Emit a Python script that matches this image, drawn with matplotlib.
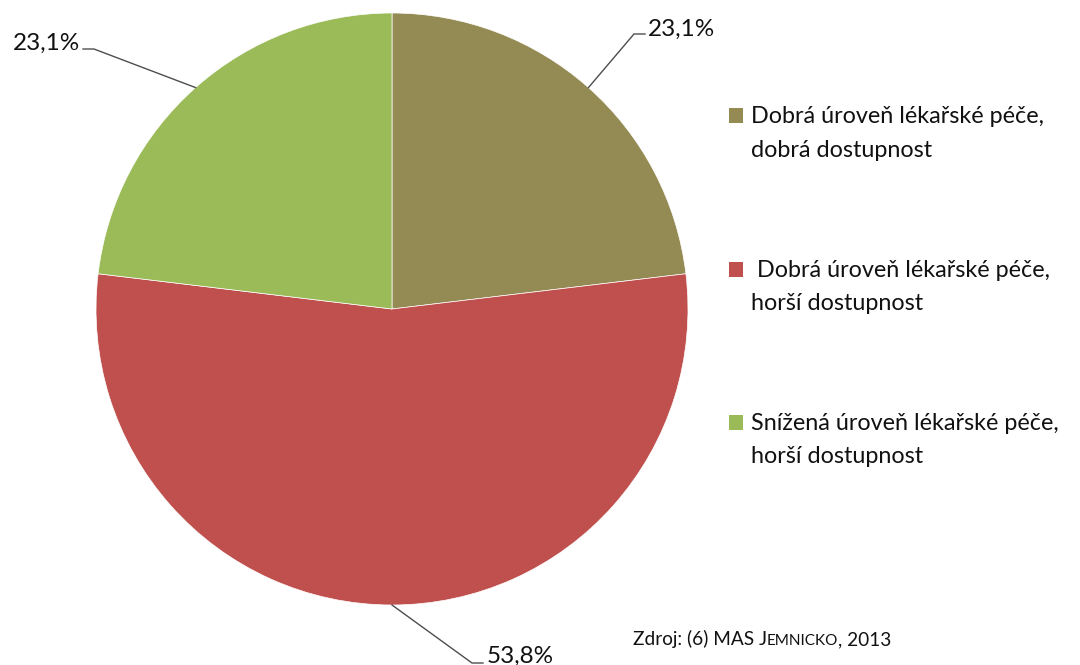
import matplotlib
matplotlib.use("Agg")
import matplotlib.pyplot as plt
import numpy as np
from matplotlib.patches import Rectangle

plt.rcParams['font.family'] = ['Lato', 'DejaVu Sans']

categories = ["Dobrá úroveň lékařské péče,\ndobrá dostupnost",
              " Dobrá úroveň lékařské péče,\nhorší dostupnost",
              "Snížená úroveň lékařské péče,\nhorší dostupnost"]
values = [23.1, 53.8, 23.1]
value_labels = ["23,1%", "53,8%", "23,1%"]
colors = ["#948A54", "#C0504D", "#9BBB59"]

W, H = 1080, 665
fig = plt.figure(figsize=(W / 100, H / 100), dpi=100)

cx, cy, R = 392, 309, 296
ax = fig.add_axes([(cx - R) / W, (H - cy - R) / H, 2 * R / W, 2 * R / H])
wedges, _ = ax.pie(values, colors=colors, startangle=90, counterclock=False,
                   radius=1, wedgeprops=dict(edgecolor="white", linewidth=0.5))
ax.set_xlim(-1, 1)
ax.set_ylim(-1, 1)
ax.set_aspect("equal")
ax.axis("off")

def px2d(px, py):
    return (px - cx) / R, (cy - py) / R

# label layout: (elbow px, stub end px, text anchor px, ha)
layout = [
    ((634, 34), (645, 34), (648, 36), "left"),
    ((472, 663), (483, 663), (487, 663), "left"),
    ((94, 49), (83, 49), (80, 50), "right"),
]
text_color = "#111111"
for w, lab, (e, s, t, ha) in zip(wedges, value_labels, layout):
    mid = np.deg2rad((w.theta1 + w.theta2) / 2)
    ax_, ay_ = np.cos(mid), np.sin(mid)
    ex, ey = px2d(*e)
    sx, sy = px2d(*s)
    ax.plot([ax_, ex, sx], [ay_, ey, sy], color="#4d4d4d", lw=1.0, clip_on=False)
    tx, ty = px2d(*t)
    ax.text(tx, ty, lab, ha=ha, va="baseline", fontsize=17.5, color=text_color, clip_on=False)

# legend
leg_base = [(123, 157), (277, 310), (430, 463)]
for lab, col, (b1, b2) in zip(categories, colors, leg_base):
    l1, l2 = lab.split("\n")
    fig.patches.append(Rectangle((729 / W, (H - b1) / H), 14 / W, 15 / H,
                                 transform=fig.transFigure, facecolor=col, edgecolor="none"))
    fig.text(751 / W, (H - b1) / H, l1, ha="left", va="baseline", fontsize=16.8, color=text_color)
    fig.text(751 / W, (H - b2) / H, l2, ha="left", va="baseline", fontsize=16.8, color=text_color)

# source text with small caps
parts = [("Zdroj: (6) MAS J", 13.7), ("EMNICKO", 11), (", 2013", 13.7)]
fig.canvas.draw()
renderer = fig.canvas.get_renderer()
x = 633
for txt, fs in parts:
    t = fig.text(x / W, (H - 645) / H, txt, ha="left", va="baseline", fontsize=fs, color=text_color)
    bb = t.get_window_extent(renderer)
    x += bb.width

fig.savefig("out.png", dpi=100)
